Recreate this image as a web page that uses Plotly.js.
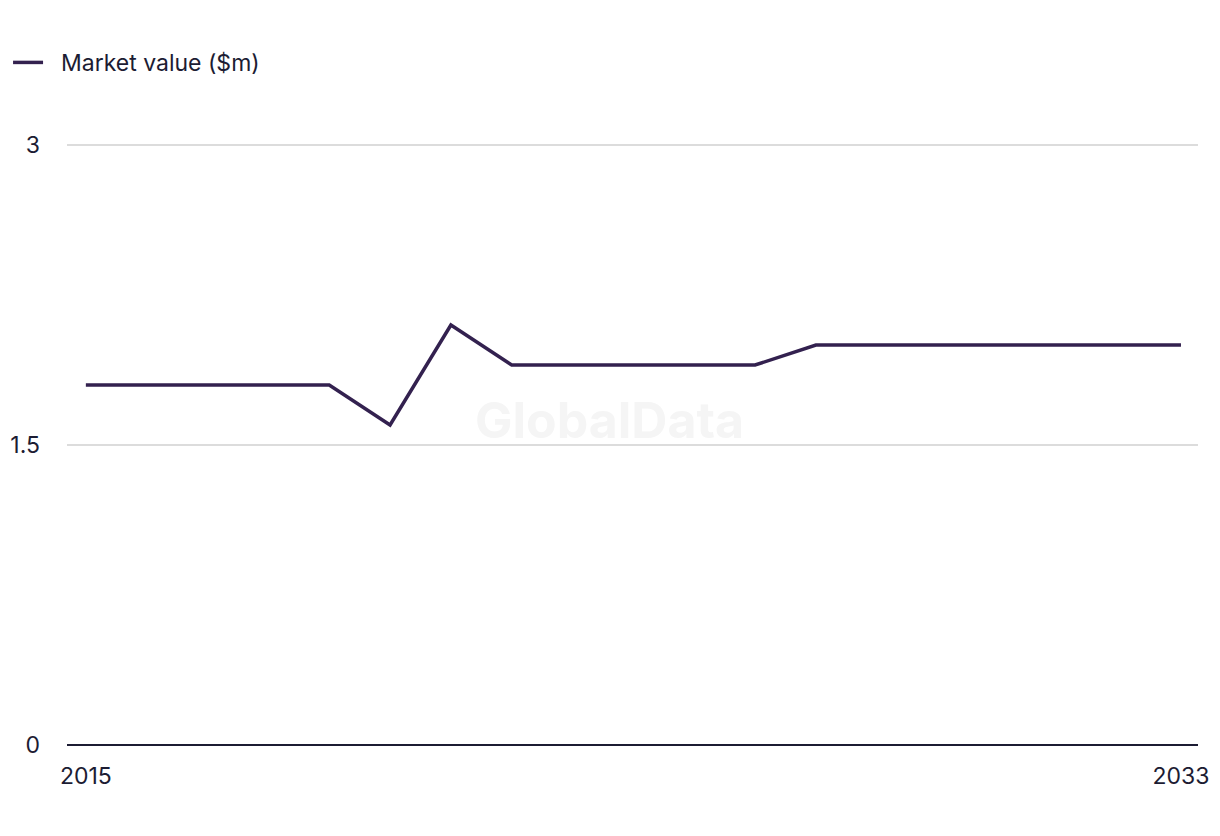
<!DOCTYPE html>
<html>
<head>
<meta charset="utf-8">
<script src="https://cdn.plot.ly/plotly-3.0.1.min.js"></script>
<style>
html,body{margin:0;padding:0;background:#fff;}
#chart{width:1220px;height:836px;}
</style>
</head>
<body>
<div id="chart"></div>
<script>
const years = [2015,2016,2017,2018,2019,2020,2021,2022,2023,2024,2025,2026,2027,2028,2029,2030,2031,2032,2033];
const marketValue = [1.8,1.8,1.8,1.8,1.8,1.6,2.1,1.9,1.9,1.9,1.9,1.9,2.0,2.0,2.0,2.0,2.0,2.0,2.0];
const seriesName = 'Market value ($m)';
const yTicks = [0, 1.5, 3];
const yTickLabels = ['0', '1.5', '3'];
const xTicks = [2015, 2033];
const xTickLabels = ['2015', '2033'];

const textColor = '#1c1c33';
const fontFamily = 'Inter, "Open Sans", sans-serif';

const trace = {
  x: years,
  y: marketValue,
  type: 'scatter',
  mode: 'lines',
  name: '\u00a0\u00a0' + seriesName,
  line: {color: '#33214f', width: 3.5}
};

const layout = {
  width: 1220,
  height: 836,
  paper_bgcolor: '#ffffff',
  plot_bgcolor: '#ffffff',
  margin: {l: 67, r: 22, t: 135, b: 91},
  font: {family: fontFamily, size: 23, color: textColor},
  showlegend: true,
  legend: {
    orientation: 'h',
    xref: 'container', yref: 'container',
    x: 0.0066, y: 0.951, xanchor: 'left', yanchor: 'top',
    font: {family: fontFamily, size: 23, color: textColor},
    itemwidth: 30,
    bgcolor: 'rgba(0,0,0,0)'
  },
  xaxis: {
    range: [2014.69, 2033.28],
    tickmode: 'array',
    tickvals: xTicks,
    ticktext: xTickLabels,
    showgrid: false,
    zeroline: false,
    showline: false,
    ticks: '',
    ticklabelstandoff: 15,
    tickfont: {family: fontFamily, size: 23, color: textColor},
    fixedrange: true
  },
  yaxis: {
    range: [0, 3.05],
    tickmode: 'array',
    tickvals: yTicks,
    ticktext: yTickLabels,
    showgrid: true,
    gridcolor: '#dcdcdc',
    gridwidth: 2,
    zeroline: true,
    zerolinecolor: '#1c1c33',
    zerolinewidth: 2,
    showline: false,
    ticks: '',
    ticklabelstandoff: 26,
    tickfont: {family: fontFamily, size: 23, color: textColor},
    fixedrange: true
  },
  annotations: [{
    text: '<b>GlobalData</b>',
    xref: 'paper', yref: 'paper',
    x: 0.48, y: 0.533,
    showarrow: false,
    font: {family: fontFamily, size: 50, color: '#f5f5f5'}
  }]
};

Plotly.newPlot('chart', [trace], layout, {displayModeBar: false, staticPlot: true});
</script>
</body>
</html>
